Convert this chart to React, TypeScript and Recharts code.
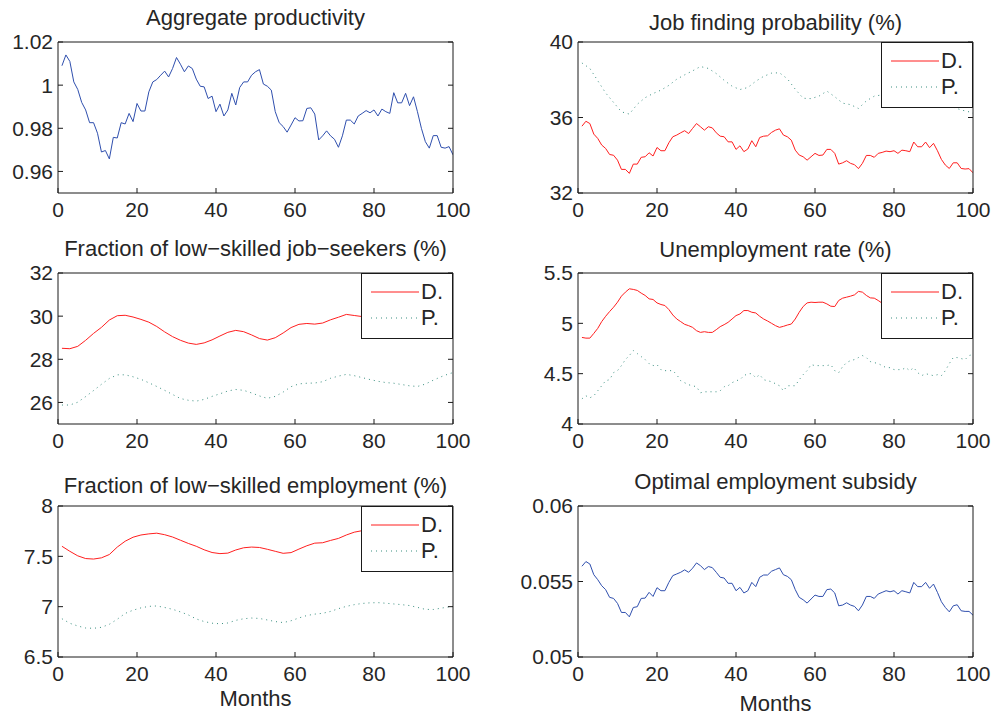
import React from "react";
import { LineChart, Line, XAxis, YAxis, Legend } from "recharts";

// month index of every sample (monthly series)
const months = [
  1, 2, 3, 4, 5, 6, 7, 8, 9, 10, 11, 12, 13, 14, 15, 16, 17, 18, 19, 20,
  21, 22, 23, 24, 25, 26, 27, 28, 29, 30, 31, 32, 33, 34, 35, 36, 37, 38, 39, 40,
  41, 42, 43, 44, 45, 46, 47, 48, 49, 50, 51, 52, 53, 54, 55, 56, 57, 58, 59, 60,
  61, 62, 63, 64, 65, 66, 67, 68, 69, 70, 71, 72, 73, 74, 75, 76, 77, 78, 79, 80,
  81, 82, 83, 84, 85, 86, 87, 88, 89, 90, 91, 92, 93, 94, 95, 96, 97, 98, 99, 100,
];
// sample months for the smooth series
const oddMonths = [
  1, 3, 5, 7, 9, 11, 13, 15, 17, 19, 21, 23, 25, 27, 29, 31, 33, 35, 37, 39,
  41, 43, 45, 47, 49, 51, 53, 55, 57, 59, 61, 63, 65, 67, 69, 71, 73, 75, 77, 79,
  81, 83, 85, 87, 89, 91, 93, 95, 97, 99, 100,
];

const productivity = [
  1.009, 1.014, 1.011, 1.0015, 0.998, 0.992, 0.9885, 0.9826, 0.9826, 0.9777,
  0.969, 0.9697, 0.9658, 0.9758, 0.9755, 0.9826, 0.982, 0.9869, 0.9831, 0.9915,
  0.988, 0.988, 0.9969, 1.0015, 1.0026, 1.0046, 1.0065, 1.0038, 1.0077, 1.0128,
  1.0097, 1.0062, 1.0089, 1.0077, 1.0028, 0.9995, 0.9992, 0.9938, 0.9949, 0.9877,
  0.9912, 0.9857, 0.9885, 0.9962, 0.9908, 0.9989, 1.0015, 1.0015, 1.0046, 1.0062,
  1.0072, 1.0005, 0.9995, 0.9977, 0.9877, 0.9826, 0.9808, 0.9782, 0.9815, 0.9849,
  0.9834, 0.9835, 0.9892, 0.9895, 0.9866, 0.9746, 0.9765, 0.9788, 0.9765, 0.9749,
  0.9712, 0.9765, 0.9838, 0.9838, 0.982, 0.9857, 0.9869, 0.9882, 0.9872, 0.9885,
  0.9857, 0.9889, 0.9877, 0.9869, 0.9965, 0.9918, 0.9918, 0.9962, 0.9905, 0.9946,
  0.9877, 0.98, 0.9738, 0.9708, 0.9766, 0.9766, 0.9712, 0.9708, 0.9715, 0.9677,
];

const jobFindD = [
  35.54, 35.8, 35.68, 35.12, 34.89, 34.54, 34.36, 34.04, 34.0, 33.74,
  33.25, 33.25, 33.04, 33.53, 33.53, 33.89, 33.92, 34.13, 33.96, 34.41,
  34.24, 34.24, 34.66, 34.98, 35.07, 35.19, 35.3, 35.15, 35.42, 35.68,
  35.51, 35.33, 35.51, 35.45, 35.19, 35.01, 34.98, 34.71, 34.71, 34.31,
  34.5, 34.19, 34.33, 34.77, 34.45, 34.94, 35.01, 35.03, 35.21, 35.33,
  35.4, 35.07, 34.98, 34.8, 34.27, 34.01, 33.92, 33.74, 33.92, 34.1,
  33.99, 34.01, 34.31, 34.31, 34.1, 33.53, 33.6, 33.71, 33.57, 33.5,
  33.29, 33.57, 33.99, 33.99, 33.89, 34.1, 34.15, 34.22, 34.19, 34.24,
  34.1, 34.27, 34.24, 34.19, 34.7, 34.45, 34.45, 34.7, 34.4, 34.63,
  34.24, 33.78, 33.48, 33.3, 33.6, 33.6, 33.3, 33.27, 33.29, 33.07,
];
const jobFindP = [
  38.89, 38.6, 37.95, 37.3, 36.8, 36.3, 36.18, 36.7, 37.05, 37.27,
  37.45, 37.7, 38.03, 38.26, 38.47, 38.7, 38.6, 38.33, 37.97, 37.66,
  37.48, 37.59, 37.92, 38.18, 38.35, 38.37, 38.05, 37.5, 37.02, 37.0,
  37.13, 37.4, 37.1, 36.76, 36.68, 36.48, 36.88, 37.13, 37.2, 37.25,
  37.25, 37.3, 37.55, 37.55, 37.55, 37.4, 36.75, 36.55, 36.4, 36.3, 36.22,
];

const seekersD = [
  28.51, 28.49, 28.6, 28.88, 29.2, 29.48, 29.82, 30.02, 30.04, 29.96,
  29.85, 29.72, 29.52, 29.27, 29.05, 28.88, 28.75, 28.69, 28.76, 28.9,
  29.08, 29.25, 29.34, 29.28, 29.13, 28.96, 28.89, 29.0, 29.22, 29.47,
  29.62, 29.66, 29.63, 29.68, 29.83, 29.95, 30.08, 30.03, 29.98, 30.0,
  30.05, 30.0, 29.95, 29.9, 29.92, 29.95, 30.0, 30.05, 30.15, 30.2, 30.23,
];
const seekersP = [
  25.88, 25.88, 26.01, 26.27, 26.55, 26.84, 27.11, 27.28, 27.28, 27.19,
  27.07, 26.91, 26.74, 26.56, 26.37, 26.18, 26.1, 26.06, 26.14, 26.28,
  26.4, 26.53, 26.6, 26.56, 26.44, 26.3, 26.19, 26.28, 26.48, 26.73,
  26.86, 26.89, 26.9, 26.96, 27.12, 27.22, 27.3, 27.24, 27.15, 27.06,
  26.98, 26.92, 26.89, 26.83, 26.77, 26.74, 26.85, 27.03, 27.19, 27.33, 27.38,
];

const unempD = [
  4.86, 4.853, 4.853, 4.9, 4.95, 5.017, 5.07, 5.117, 5.16, 5.21,
  5.27, 5.31, 5.343, 5.337, 5.327, 5.3, 5.277, 5.243, 5.237, 5.203,
  5.187, 5.177, 5.137, 5.083, 5.043, 5.017, 4.99, 4.977, 4.96, 4.927,
  4.91, 4.917, 4.91, 4.91, 4.937, 4.967, 4.987, 5.01, 5.043, 5.077,
  5.093, 5.127, 5.127, 5.11, 5.103, 5.07, 5.043, 5.023, 5.0, 4.977,
  4.96, 4.97, 4.983, 4.993, 5.043, 5.11, 5.167, 5.203, 5.21, 5.207,
  5.21, 5.21, 5.193, 5.17, 5.167, 5.227, 5.25, 5.26, 5.27, 5.283,
  5.317, 5.31, 5.277, 5.253, 5.25, 5.227, 5.2, 5.18, 5.18, 5.16,
  5.16, 5.16, 5.18, 5.15, 5.18, 5.13, 5.1, 5.12, 5.11, 5.1,
  5.11, 5.1, 5.15, 5.22, 5.28, 5.28, 5.27, 5.26, 5.3, 5.31,
];
const unempP = [
  4.25, 4.28, 4.26, 4.28, 4.33, 4.38, 4.43, 4.44, 4.51, 4.53,
  4.58, 4.64, 4.68, 4.73, 4.7, 4.67, 4.64, 4.6, 4.58, 4.59,
  4.54, 4.53, 4.53, 4.53, 4.49, 4.43, 4.41, 4.39, 4.38, 4.37,
  4.31, 4.32, 4.32, 4.32, 4.32, 4.33, 4.37, 4.38, 4.41, 4.43,
  4.44, 4.48, 4.5, 4.5, 4.46, 4.49, 4.44, 4.43, 4.42, 4.4,
  4.38, 4.33, 4.38, 4.38, 4.38, 4.44, 4.49, 4.53, 4.59, 4.58,
  4.58, 4.58, 4.58, 4.59, 4.53, 4.51, 4.57, 4.61, 4.63, 4.64,
  4.66, 4.68, 4.66, 4.62, 4.61, 4.6, 4.58, 4.56, 4.56, 4.54,
  4.54, 4.54, 4.56, 4.53, 4.56, 4.51, 4.48, 4.5, 4.49, 4.48,
  4.49, 4.48, 4.53, 4.6, 4.66, 4.66, 4.65, 4.64, 4.68, 4.69,
];

const employD = [
  7.6, 7.55, 7.505, 7.478, 7.473, 7.485, 7.518, 7.592, 7.65, 7.69,
  7.712, 7.723, 7.73, 7.715, 7.692, 7.66, 7.628, 7.6, 7.565, 7.538,
  7.527, 7.532, 7.563, 7.585, 7.592, 7.588, 7.57, 7.55, 7.53, 7.537,
  7.572, 7.605, 7.631, 7.635, 7.658, 7.678, 7.712, 7.74, 7.755, 7.765,
  7.765, 7.76, 7.755, 7.745, 7.735, 7.72, 7.7, 7.69, 7.7, 7.72, 7.73,
];
const employP = [
  6.88, 6.835, 6.808, 6.788, 6.785, 6.795, 6.825, 6.875, 6.933, 6.965,
  6.988, 7.003, 7.007, 6.992, 6.974, 6.948, 6.918, 6.878, 6.852, 6.836,
  6.83, 6.838, 6.864, 6.88, 6.887, 6.883, 6.868, 6.852, 6.842, 6.86,
  6.888, 6.912, 6.926, 6.934, 6.953, 6.98, 7.003, 7.02, 7.032, 7.038,
  7.04, 7.034, 7.027, 7.02, 7.011, 6.993, 6.973, 6.972, 6.985, 6.998, 7.0,
];

const subsidy = [
  0.05601, 0.05632, 0.05616, 0.05545, 0.05512, 0.05472, 0.05446, 0.05395, 0.05388, 0.05355,
  0.05295, 0.05295, 0.05266, 0.05328, 0.05333, 0.05388, 0.0539, 0.05428, 0.05401, 0.05459,
  0.05439, 0.05439, 0.05494, 0.05539, 0.0555, 0.05561, 0.05577, 0.05561, 0.05588, 0.05623,
  0.05605, 0.05579, 0.05599, 0.05592, 0.05561, 0.05528, 0.05523, 0.05488, 0.05488, 0.05439,
  0.05461, 0.05424, 0.05439, 0.05494, 0.05466, 0.05528, 0.05543, 0.05543, 0.05568, 0.05579,
  0.0559, 0.05545, 0.05534, 0.05512, 0.05446, 0.05395, 0.05379, 0.05357, 0.05384, 0.0541,
  0.05401, 0.05401, 0.05446, 0.0545, 0.05424, 0.05339, 0.05344, 0.05359, 0.05344, 0.05335,
  0.05306, 0.05344, 0.05401, 0.05401, 0.05388, 0.05417, 0.05428, 0.05439, 0.05432, 0.05439,
  0.05417, 0.05439, 0.05432, 0.05424, 0.05494, 0.05466, 0.05466, 0.05494, 0.05455, 0.05483,
  0.05428, 0.05366, 0.05328, 0.05299, 0.05339, 0.05346, 0.05306, 0.05302, 0.05302, 0.05277,
];

const xTicks = [0, 20, 40, 60, 80, 100];

const FONT = '"Liberation Sans", Arial, Helvetica, sans-serif';
const INK = "#262626";
const BLUE = "#2f4fae";
const RED = "#ff1f1f";
const TEAL = "#3a8f80";
const DOTS = "1 4";

const PLOT_W = 395;
const PLOT_H = 151;
const Y_W = 60; // room for the y tick labels
const R_W = 25;
const T_H = 20;
const B_H = 40;

type Row = { m: number; v: number };
const rows = (ms: number[], vs: number[]): Row[] =>
  ms.map((m, i) => ({ m, v: vs[i] }));

type Series = { name: string; data: Row[]; color: string; dotted?: boolean };

const LegendBox = (props: any) => {
  const items = props.payload || [];
  return (
    <div
      style={{
        width: 92,
        height: 66,
        boxSizing: "border-box",
        border: "1px solid #1a1a1a",
        background: "#fff",
        position: "relative",
        fontFamily: FONT,
        color: INK,
      }}
    >
      {items.map((p: any, i: number) => {
        const cy = i === 0 ? 17.5 : 44;
        const dotted = p.payload && p.payload.strokeDasharray;
        return (
          <React.Fragment key={i}>
            <svg
              width={60}
              height={4}
              style={{ position: "absolute", left: 0, top: cy - 2 }}
            >
              <line
                x1={9}
                x2={57}
                y1={2}
                y2={2}
                stroke={p.color}
                strokeWidth={1}
                strokeDasharray={dotted || undefined}
              />
            </svg>
            <span
              style={{
                position: "absolute",
                left: 59,
                top: cy - 12,
                fontSize: 22,
                lineHeight: "24px",
                whiteSpace: "nowrap",
              }}
            >
              {p.value}
            </span>
          </React.Fragment>
        );
      })}
    </div>
  );
};

type PanelProps = {
  x: number;
  y: number;
  domain: [number, number];
  ticks: number[];
  series: Series[];
  legend?: boolean;
};

function Panel({ x, y, domain, ticks, series, legend }: PanelProps) {
  const axisStroke = { stroke: "#1a1a1a", strokeWidth: 1 };
  const tickStyle = { fill: INK, fontSize: 21, fontFamily: FONT };
  return (
    <div style={{ position: "absolute", left: x - Y_W, top: y - T_H }}>
      <LineChart
        width={Y_W + PLOT_W + R_W}
        height={T_H + PLOT_H + B_H}
        margin={{ top: 0, right: 0, bottom: 0, left: 0 }}
      >
        <XAxis
          xAxisId="b"
          dataKey="m"
          type="number"
          domain={[0, 100]}
          ticks={xTicks}
          allowDataOverflow
          height={B_H}
          tickSize={-5}
          tickMargin={14}
          axisLine={axisStroke}
          tickLine={axisStroke}
          tick={tickStyle}
        />
        <XAxis
          xAxisId="t"
          orientation="top"
          type="number"
          domain={[0, 100]}
          ticks={xTicks}
          allowDataOverflow
          height={T_H}
          tickSize={-5}
          tickFormatter={() => ""}
          axisLine={axisStroke}
          tickLine={axisStroke}
        />
        <YAxis
          yAxisId="l"
          type="number"
          domain={domain}
          ticks={ticks}
          allowDataOverflow
          width={Y_W}
          tickSize={-5}
          tickMargin={10}
          axisLine={axisStroke}
          tickLine={axisStroke}
          tick={tickStyle}
          tickFormatter={(v: number) => String(v)}
        />
        <YAxis
          yAxisId="r"
          orientation="right"
          type="number"
          domain={domain}
          ticks={ticks}
          allowDataOverflow
          width={R_W}
          tickSize={-5}
          tickFormatter={() => ""}
          axisLine={axisStroke}
          tickLine={axisStroke}
        />
        {series.map((s) => (
          <Line
            key={s.name}
            xAxisId="b"
            yAxisId="l"
            name={s.name}
            data={s.data}
            dataKey="v"
            type="linear"
            stroke={s.color}
            strokeWidth={1}
            strokeDasharray={s.dotted ? DOTS : undefined}
            dot={false}
            isAnimationActive={false}
          />
        ))}
        {legend && (
          <Legend
            layout="horizontal"
            verticalAlign="middle"
            align="center"
            content={<LegendBox />}
            wrapperStyle={{
              position: "absolute",
              left: Y_W + PLOT_W - 92,
              top: T_H,
              width: 92,
              height: 66,
            }}
          />
        )}
      </LineChart>
    </div>
  );
}

const LEFT = 58;
const RIGHT = 578;
const ROW1 = 42;
const ROW2 = 273;
const ROW3 = 506;

const titles = [
  { text: "Aggregate productivity", x: LEFT + PLOT_W / 2, y: 25 },
  { text: "Job finding probability (%)", x: RIGHT + PLOT_W / 2, y: 30 },
  { text: "Fraction of low\u2212skilled job\u2212seekers (%)", x: LEFT + PLOT_W / 2, y: 256 },
  { text: "Unemployment rate (%)", x: RIGHT + PLOT_W / 2, y: 257 },
  { text: "Fraction of low\u2212skilled employment (%)", x: LEFT + PLOT_W / 2, y: 493 },
  { text: "Optimal employment subsidy", x: RIGHT + PLOT_W / 2, y: 489 },
  { text: "Months", x: LEFT + PLOT_W / 2, y: 706 },
  { text: "Months", x: RIGHT + PLOT_W / 2, y: 711 },
];

export default function App() {
  return (
    <div
      style={{
        position: "absolute",
        left: 0,
        top: 0,
        width: 996,
        height: 717,
        background: "#fff",
        overflow: "hidden",
      }}
    >
      <Panel
        x={LEFT}
        y={ROW1}
        domain={[0.95, 1.02]}
        ticks={[0.96, 0.98, 1, 1.02]}
        series={[{ name: "prod", data: rows(months, productivity), color: BLUE }]}
      />
      <Panel
        x={RIGHT}
        y={ROW1}
        domain={[32, 40]}
        ticks={[32, 36, 40]}
        legend
        series={[
          { name: "D.", data: rows(months, jobFindD), color: RED },
          { name: "P.", data: rows(oddMonths, jobFindP), color: TEAL, dotted: true },
        ]}
      />
      <Panel
        x={LEFT}
        y={ROW2}
        domain={[25, 32]}
        ticks={[26, 28, 30, 32]}
        legend
        series={[
          { name: "D.", data: rows(oddMonths, seekersD), color: RED },
          { name: "P.", data: rows(oddMonths, seekersP), color: TEAL, dotted: true },
        ]}
      />
      <Panel
        x={RIGHT}
        y={ROW2}
        domain={[4, 5.5]}
        ticks={[4, 4.5, 5, 5.5]}
        legend
        series={[
          { name: "D.", data: rows(months, unempD), color: RED },
          { name: "P.", data: rows(months, unempP), color: TEAL, dotted: true },
        ]}
      />
      <Panel
        x={LEFT}
        y={ROW3}
        domain={[6.5, 8]}
        ticks={[6.5, 7, 7.5, 8]}
        legend
        series={[
          { name: "D.", data: rows(oddMonths, employD), color: RED },
          { name: "P.", data: rows(oddMonths, employP), color: TEAL, dotted: true },
        ]}
      />
      <Panel
        x={RIGHT}
        y={ROW3}
        domain={[0.05, 0.06]}
        ticks={[0.05, 0.055, 0.06]}
        series={[{ name: "subsidy", data: rows(months, subsidy), color: BLUE }]}
      />
      <svg
        width={996}
        height={717}
        style={{ position: "absolute", left: 0, top: 0, pointerEvents: "none" }}
      >
        {titles.map((t, i) => (
          <text
            key={i}
            x={t.x}
            y={t.y}
            textAnchor="middle"
            fontFamily={FONT}
            fontSize={22}
            fill={INK}
          >
            {t.text}
          </text>
        ))}
      </svg>
    </div>
  );
}
